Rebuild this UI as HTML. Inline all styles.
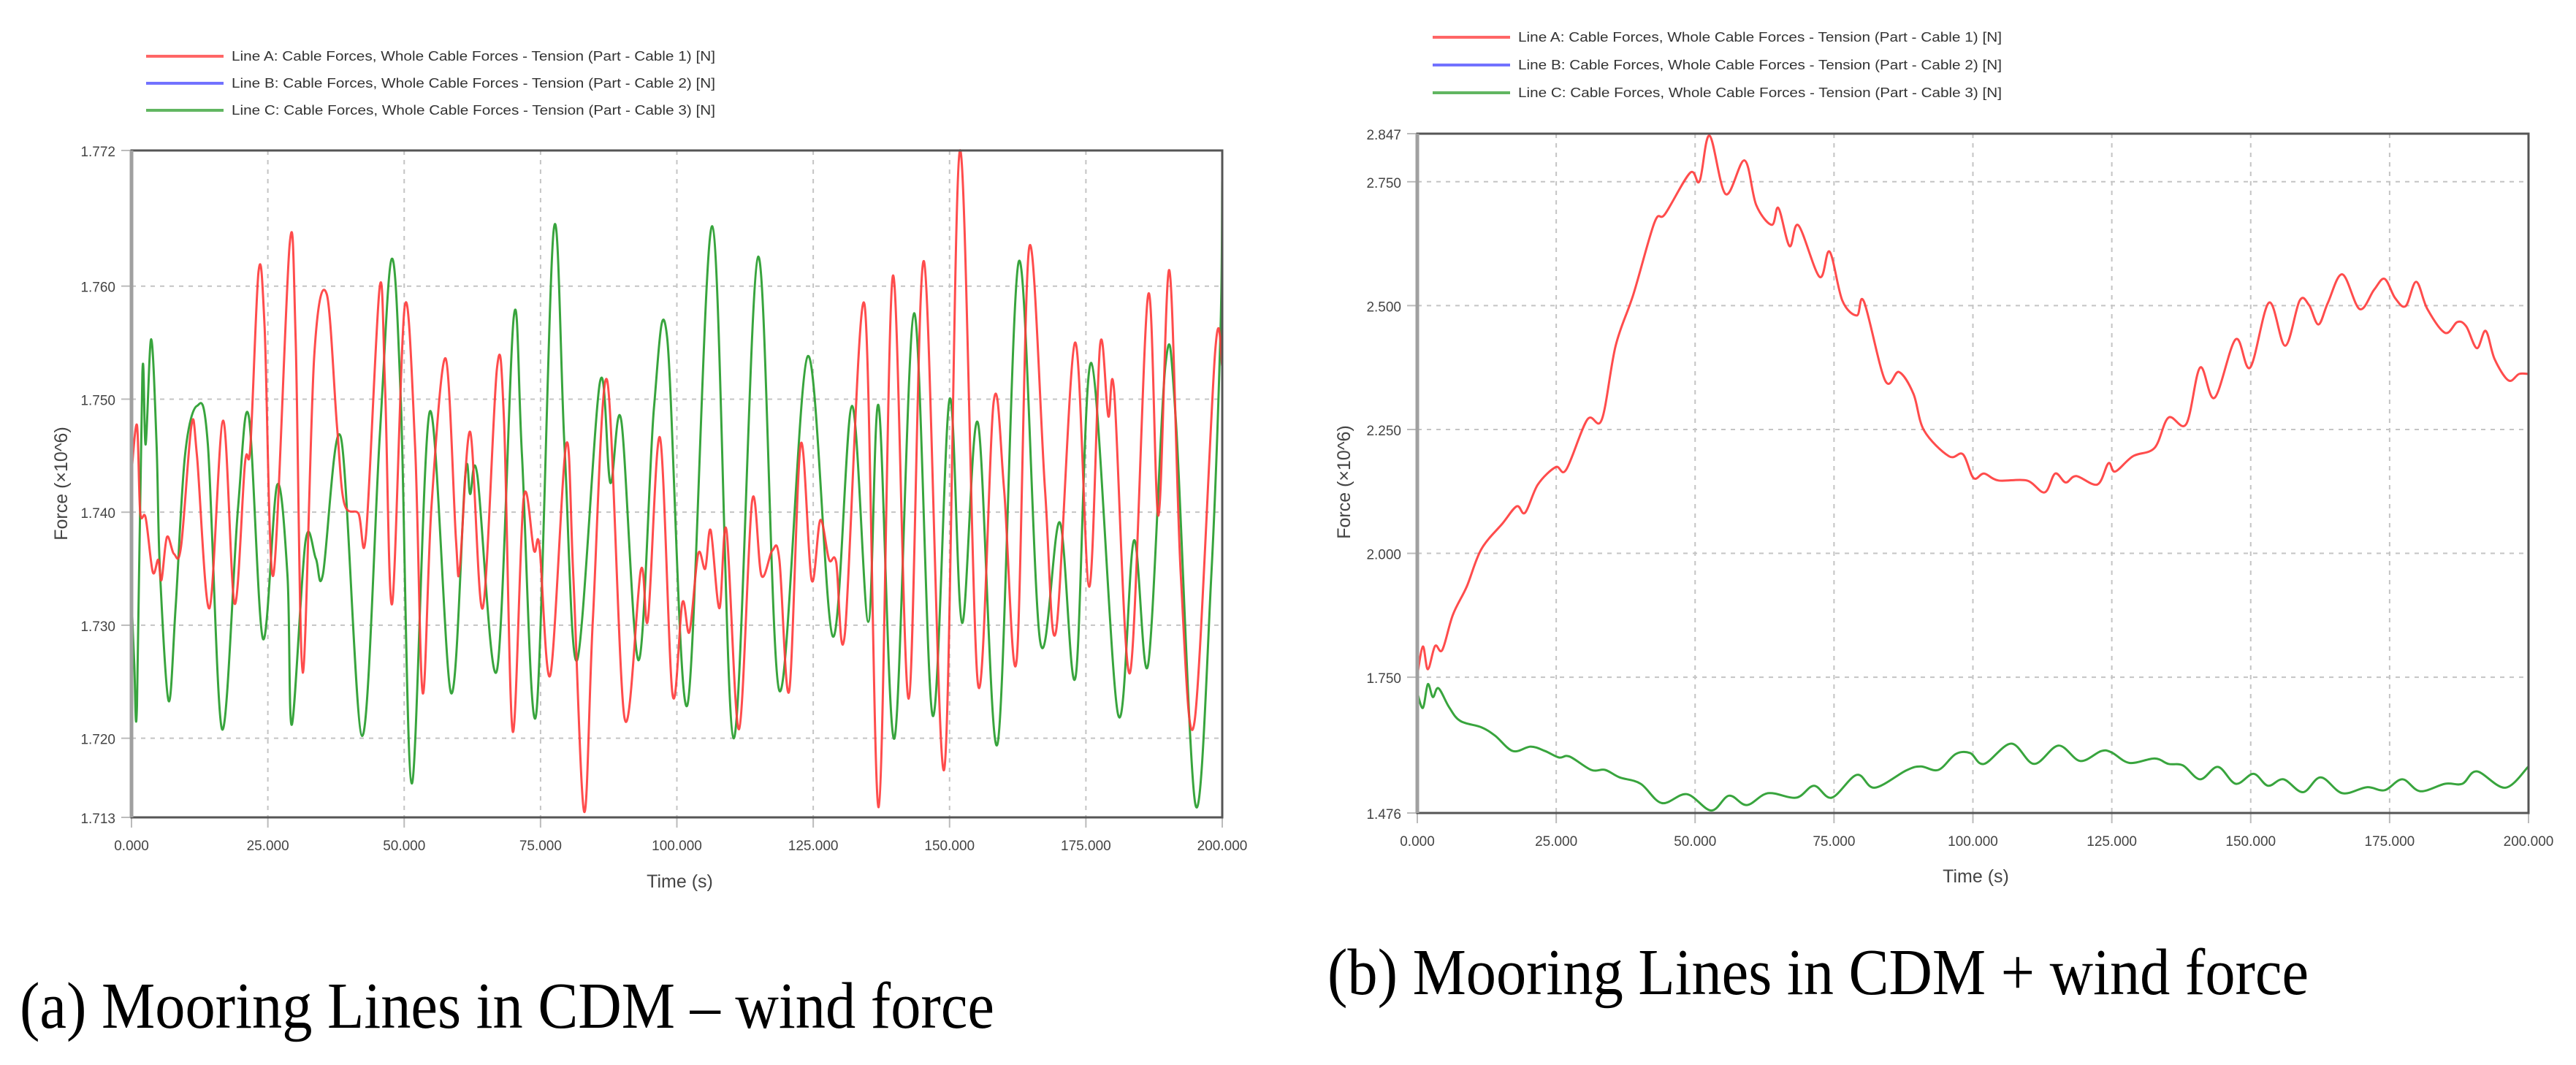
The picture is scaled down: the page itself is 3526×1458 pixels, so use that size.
<!DOCTYPE html>
<html><head><meta charset="utf-8"><style>
html,body{margin:0;padding:0;background:#fff;}
svg{display:block;}
.tick{font-family:"Liberation Sans",sans-serif;font-size:19px;fill:#444;}
.leg{font-family:"Liberation Sans",sans-serif;font-size:18px;fill:#333;}
.ttl{font-family:"Liberation Sans",sans-serif;font-size:25px;fill:#444;}
.cap{font-family:"Liberation Serif",serif;font-size:90px;fill:#000;}
</style></head><body>
<svg id="fig" width="3526" height="1458" viewBox="0 0 3526 1458" xmlns="http://www.w3.org/2000/svg">
<text class="cap" x="27" y="1407" textLength="1334" lengthAdjust="spacingAndGlyphs">(a) Mooring Lines in CDM – wind force</text>
<text class="cap" x="1817" y="1361" textLength="1343" lengthAdjust="spacingAndGlyphs">(b) Mooring Lines in CDM + wind force</text>
</svg>
<script>
// ---- Chart A data (time s, force x10^6 N) ----
const aRedT=[0,1,1.6,2.6,3.9,4.9,5.5,6.5,7.8,9.1,11,12,14.3,16.8,18.9,20.8,21.8,23.3,24.4,26,29,30.1,31.4,33.5,35.8,37.7,39,41.6,43,45.5,46.5,47.8,50.1,52,53.4,55,57.6,59.5,60.2,62.1,64.4,67,68.3,69.9,71.9,73.8,74.8,76.8,79.7,81,83,84.6,87.2,90.4,93.4,94.7,96.9,99.2,101,102.3,103.9,105.2,106.2,107.8,109.1,111.4,113.8,115.5,117.5,118.8,120.6,122.7,124.7,126.3,127.9,129.2,130.8,134.4,137,139.6,142.5,145.3,149,151.9,155.2,158.1,160,162.3,164.6,167.5,169.5,173,175.6,177.6,179.1,180.2,183.1,186.4,188.3,190.3,192.4,194.9,198.7,200];
const aRedV=[1.7435,1.7477,1.740,1.7395,1.7347,1.7358,1.734,1.7378,1.7363,1.737,1.7477,1.745,1.7315,1.7481,1.7319,1.7443,1.7458,1.7613,1.7565,1.7344,1.7637,1.7553,1.7258,1.7538,1.7593,1.7475,1.7408,1.7399,1.738,1.7599,1.751,1.7319,1.7582,1.7458,1.724,1.7405,1.7536,1.7375,1.7351,1.7471,1.7315,1.7527,1.7481,1.7206,1.7412,1.7366,1.737,1.7256,1.746,1.7344,1.7135,1.7305,1.7517,1.7218,1.7349,1.7305,1.7466,1.7239,1.732,1.7294,1.7363,1.735,1.7384,1.7315,1.7384,1.7208,1.741,1.7344,1.7366,1.7358,1.7242,1.746,1.734,1.7393,1.7358,1.7356,1.7292,1.7584,1.7139,1.7609,1.7235,1.7622,1.7172,1.772,1.7248,1.7498,1.742,1.7269,1.7634,1.742,1.7294,1.755,1.7334,1.7548,1.7485,1.7506,1.7258,1.7592,1.7397,1.7614,1.7344,1.7214,1.7542,1.7529];
const aGreenT=[0,0.5,1,2,2.6,3.6,4.6,5.2,6.8,8.1,9.8,12,14,16.6,19.5,21.5,24.1,26.7,28.6,29.4,31.9,33.8,35.1,38.4,42.3,45.5,47.7,49.4,51.4,54.7,58.6,61.2,62.1,63.4,67,70.1,71.6,74.2,77.4,79.4,81.7,85.9,87.8,89.8,93,95.8,98.2,101.9,106.5,110.4,114.9,118.8,124,128.6,132.1,135.1,137,139.9,143.5,146.9,150,152.3,155.2,158.8,162.7,166.6,170.2,173.1,176,180.9,183.8,186.4,189.6,191.5,195.1,198,199.7,200];
const aGreenV=[1.7324,1.7267,1.7229,1.7523,1.746,1.7553,1.746,1.735,1.7233,1.7317,1.745,1.7494,1.746,1.7208,1.7402,1.7485,1.7288,1.7424,1.7344,1.7212,1.7374,1.7359,1.7345,1.7466,1.7202,1.7466,1.7624,1.7496,1.716,1.7489,1.724,1.7433,1.7416,1.7433,1.726,1.7573,1.745,1.7221,1.7649,1.7458,1.7269,1.7515,1.7426,1.7481,1.7269,1.7492,1.7555,1.7229,1.7653,1.72,1.7626,1.7242,1.7538,1.729,1.7494,1.7303,1.7494,1.72,1.7576,1.722,1.75,1.7302,1.7479,1.7195,1.7622,1.7286,1.7391,1.7254,1.7532,1.7221,1.7375,1.7265,1.7531,1.7481,1.7141,1.7345,1.7565,1.7695];
const aBlueT=aGreenT.slice();
const aBlueV=aGreenV.slice();
const aYTicks=[1.772,1.760,1.750,1.740,1.730,1.720,1.713];
const aYTickLabels=["1.772","1.760","1.750","1.740","1.730","1.720","1.713"];
// ---- Chart B data ----
const bRedT=[0,1,1.9,3.2,4.5,6.4,8.9,11.5,15.3,17.9,19.4,21.7,24.9,26.8,30.6,33.2,35.7,38.9,42.7,44.6,49.1,50.8,52.6,55.5,58.9,61,63.8,65,67,68.6,72.4,74.2,76.5,79.1,80.4,84.2,86.7,89.3,91.2,95.7,98.2,100.1,102,104.6,109.7,112.9,114.8,116.7,118.6,122.4,124.4,125.6,128.8,132.7,135.2,138.4,140.9,143.5,147.3,149.9,153.3,156.2,158.8,160.5,162.2,163.9,166.5,169.6,172.2,174.1,176,177.9,179.8,181.8,185,187.2,188.8,190.7,192.3,193.9,196.4,198.3,200];
const bRedV=[1.754,1.812,1.766,1.813,1.805,1.876,1.933,2.008,2.060,2.095,2.082,2.139,2.174,2.169,2.270,2.270,2.419,2.523,2.668,2.685,2.768,2.751,2.843,2.725,2.793,2.703,2.663,2.697,2.620,2.662,2.558,2.609,2.510,2.480,2.508,2.349,2.366,2.322,2.248,2.196,2.200,2.152,2.161,2.147,2.147,2.123,2.161,2.143,2.156,2.139,2.182,2.165,2.196,2.213,2.274,2.261,2.375,2.314,2.432,2.375,2.506,2.419,2.510,2.501,2.462,2.506,2.563,2.493,2.532,2.554,2.515,2.499,2.548,2.493,2.445,2.467,2.458,2.414,2.449,2.392,2.349,2.362,2.362];
const bGreenT=[0,1,1.9,2.8,3.8,5.7,7.7,11.5,14,17.2,20.4,23,25.5,27.4,31.3,33.8,36.4,40.2,44,48.5,52.9,56.1,59.3,63.1,68.2,71.4,74.6,79.1,82.3,88,90.6,93.8,96.9,99.5,102,106.9,111,115.4,119.3,123.1,125,128.2,132.7,135.2,137.8,140.9,144.1,147.3,150.5,153.1,155.9,159.4,162.6,166.5,170.9,174.1,177.3,180.5,185,188.1,190.7,195.8,200];
const bGreenV=[1.719,1.688,1.736,1.710,1.728,1.690,1.662,1.649,1.632,1.601,1.610,1.601,1.588,1.590,1.563,1.563,1.548,1.535,1.496,1.514,1.481,1.511,1.492,1.516,1.507,1.531,1.507,1.553,1.527,1.562,1.570,1.563,1.595,1.597,1.575,1.616,1.575,1.612,1.581,1.601,1.598,1.577,1.586,1.575,1.572,1.544,1.569,1.535,1.555,1.531,1.544,1.518,1.548,1.516,1.528,1.522,1.544,1.520,1.535,1.535,1.560,1.527,1.570];
const bBlueT=bGreenT.slice();
const bBlueV=bGreenV.slice();
const bYTicks=[2.847,2.750,2.500,2.250,2.000,1.750,1.476];
const bYTickLabels=["2.847","2.750","2.500","2.250","2.000","1.750","1.476"];
const xTicks=[0,25,50,75,100,125,150,175,200];
const xTickLabels=["0.000","25.000","50.000","75.000","100.000","125.000","150.000","175.000","200.000"];
const legendLabels=["Line A: Cable Forces, Whole Cable Forces - Tension (Part - Cable 1) [N]","Line B: Cable Forces, Whole Cable Forces - Tension (Part - Cable 2) [N]","Line C: Cable Forces, Whole Cable Forces - Tension (Part - Cable 3) [N]"];

const NS="http://www.w3.org/2000/svg";
const svg=document.getElementById('fig');
function mk(tag,attrs,parent){const e=document.createElementNS(NS,tag);for(const k in attrs)e.setAttribute(k,attrs[k]);(parent||svg).appendChild(e);return e;}
function smooth(pts){let d='M'+pts[0][0].toFixed(1)+','+pts[0][1].toFixed(1);
 for(let i=0;i<pts.length-1;i++){const p0=pts[Math.max(0,i-1)],p1=pts[i],p2=pts[i+1],p3=pts[Math.min(pts.length-1,i+2)];
  const c1x=p1[0]+(p2[0]-p0[0])/6,c1y=p1[1]+(p2[1]-p0[1])/6,c2x=p2[0]-(p3[0]-p1[0])/6,c2y=p2[1]-(p3[1]-p1[1])/6;
  d+=' C'+c1x.toFixed(1)+','+c1y.toFixed(1)+' '+c2x.toFixed(1)+','+c2y.toFixed(1)+' '+p2[0].toFixed(1)+','+p2[1].toFixed(1);}
 return d;}

function chart(cfg){
 const g=mk('g',{});
 
 
 const L=cfg.L,R=cfg.R,T=cfg.T,B=cfg.B,ymin=cfg.yTicks[cfg.yTicks.length-1],ymax=cfg.yTicks[0];
 const xs=t=>L+(t-0)/200*(R-L);
 const ys=v=>B-(v-ymin)/(ymax-ymin)*(B-T);
 const cols=['#ff4040','#5050ff','#3aa53a'];
 for(let i=0;i<3;i++){
  const y=cfg.legY+i*cfg.legDy;
  const ln=mk('line',{x1:cfg.legX,x2:cfg.legX+106,y1:y,y2:y,stroke:cols[i],'stroke-width':4,opacity:0.8},g);
  
  
  const tx=mk('text',{x:cfg.legX+117,y:y+6,'class':'leg',textLength:662,lengthAdjust:'spacingAndGlyphs'},g);
  tx.textContent=legendLabels[i];
  
  
 }
 xTicks.forEach((t,i)=>{
  if(i>0&&i<xTicks.length-1){const gl=mk('line',{x1:xs(t),x2:xs(t),y1:T,y2:B,stroke:'#c4c4c4','stroke-width':2,'stroke-dasharray':'6 7'},g);
   
   }
  const tk=mk('line',{x1:xs(t),x2:xs(t),y1:B,y2:B+14,stroke:'#bbb','stroke-width':2},g);
  
  
  const lb=mk('text',{x:xs(t),y:B+45,'text-anchor':'middle','class':'tick'},g);
  lb.textContent=xTickLabels[i];
  
  
 });
 cfg.yTicks.forEach((v,i)=>{
  if(i>0&&i<cfg.yTicks.length-1){const gl=mk('line',{x1:L,x2:R,y1:ys(v),y2:ys(v),stroke:'#c4c4c4','stroke-width':2,'stroke-dasharray':'6 7'},g);
   
   }
  const tk=mk('line',{x1:L-14,x2:L,y1:ys(v),y2:ys(v),stroke:'#bbb','stroke-width':2},g);
  
  
  const lb=mk('text',{x:L-22,y:ys(v)+8,'text-anchor':'end','class':'tick'},g);
  lb.textContent=cfg.yLabels[i];
  
  
 });
 const series=[[cfg.blueT,cfg.blueV,'#3030ff',2,'series-line-b',0.7],[cfg.greenT,cfg.greenV,'#34a534',3,'series-line-c',0.95],[cfg.redT,cfg.redV,'#ff3838',3,'series-line-a',0.9]];
 series.forEach(s=>{
  const pts=s[0].map((t,i)=>[xs(t),ys(s[1][i])]);
  const p=mk('path',{d:smooth(pts),fill:'none',stroke:s[2],'stroke-width':s[3],'stroke-linejoin':'round',opacity:s[5]},g);
  
  
 });
 const fr=mk('rect',{x:L,y:T,width:R-L,height:B-T,fill:'none',stroke:'#555','stroke-width':3},g);
 
 
 const la=mk('line',{x1:L,x2:L,y1:T,y2:B,stroke:'#a0a0a0','stroke-width':5},g);
 
 
 const xt=mk('text',{x:(L+R)/2+4,y:cfg.xTitleY,'text-anchor':'middle','class':'ttl'},g);
 xt.textContent='Time (s)';
 
 
 const yt=mk('text',{x:0,y:0,'text-anchor':'middle','class':'ttl',transform:'translate('+cfg.yTitleX+','+cfg.yTitleY+') rotate(-90)'},g);
 yt.textContent='Force (×10^6)';
 
 
}
chart({name:'chart-a',L:180,R:1673,T:206,B:1119,yTicks:aYTicks,yLabels:aYTickLabels,redT:aRedT,redV:aRedV,greenT:aGreenT,greenV:aGreenV,blueT:aBlueT,blueV:aBlueV,legX:200,legY:77,legDy:37,xTitleY:1215,yTitleX:92,yTitleY:662});
chart({name:'chart-b',L:1940,R:3461,T:183,B:1113,yTicks:bYTicks,yLabels:bYTickLabels,redT:bRedT,redV:bRedV,greenT:bGreenT,greenV:bGreenV,blueT:bBlueT,blueV:bBlueV,legX:1961,legY:51,legDy:38,xTitleY:1208,yTitleX:1848,yTitleY:660});
</script>
</body></html>
